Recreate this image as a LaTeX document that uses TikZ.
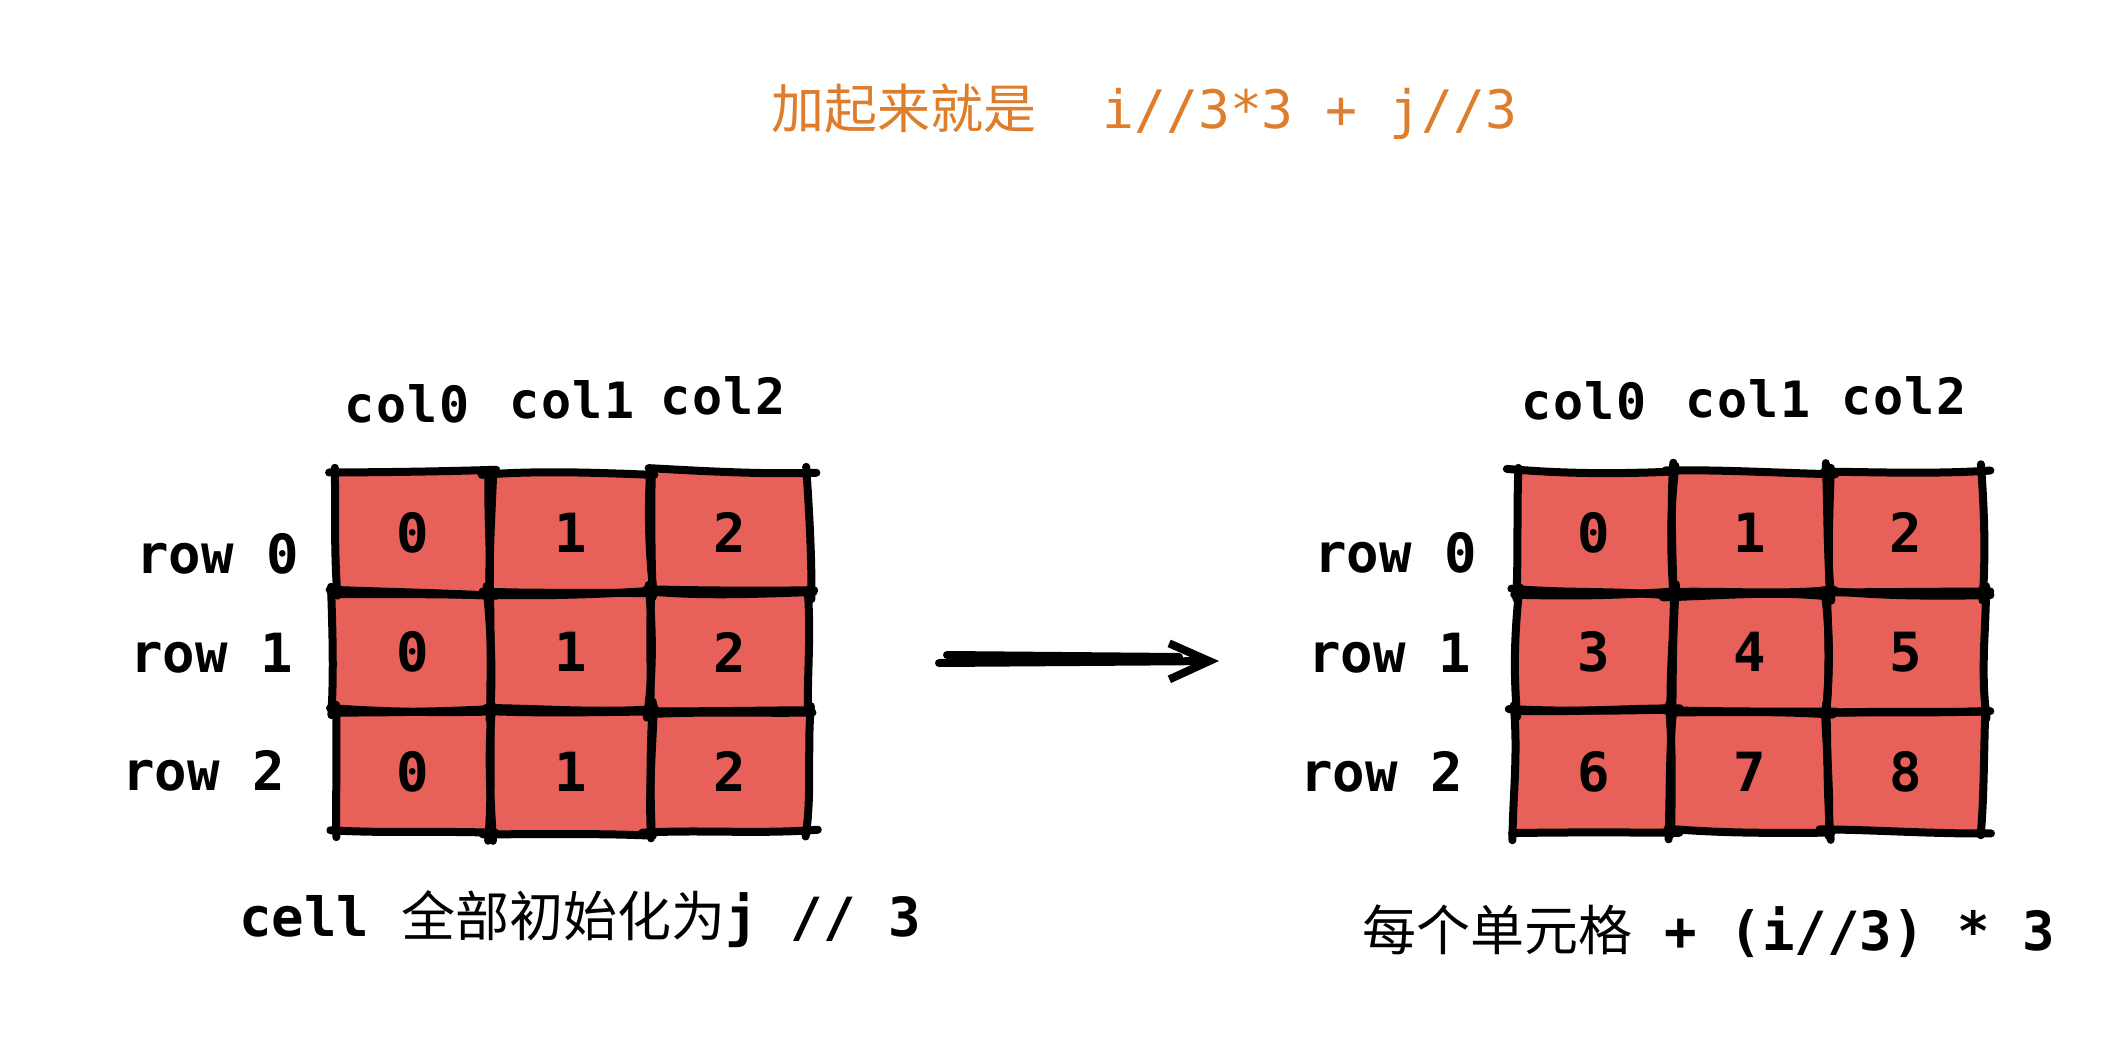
\documentclass[tikz,border=0pt]{standalone}
\usepackage{fontspec}
\setmonofont{DejaVu Sans Mono}
\newfontfamily\cjk{Noto Sans CJK SC}
\newfontfamily\colfont{DejaVu Sans Mono}[LetterSpace=3]
\usetikzlibrary{arrows.meta,calc}
\definecolor{cellred}{RGB}{232,96,90}
\definecolor{titleorange}{RGB}{222,126,44}

\newcommand\mkcell[6]{%
  \pgfmathsetmacro\cw{(#4-#2)*0.5}%
  \pgfmathsetmacro\ch{(#5-#3)*0.5}%
  \node[cellnode, minimum width=\cw pt, minimum height=\ch pt] (#1) at ({(#2+#4)/2},{(#3+#5)/2}) {#6};%
}
\newcommand\skedge[2]{%
  \pgfmathsetmacro\ja{4*rand}\pgfmathsetmacro\jb{4*rand}%
  \pgfmathsetmacro\jc{4*rand}\pgfmathsetmacro\jd{4*rand}%
  \pgfmathsetmacro\je{3*rand}\pgfmathsetmacro\jf{3*rand}%
  \draw[edge] ($(#1)!-2.5pt!(#2)+(\ja,\jb)$) .. controls ($(#1)!0.33!(#2)+(\je,\je)$) and ($(#1)!0.67!(#2)+(\jf,\jf)$) .. ($(#2)!-2.5pt!(#1)+(\jc,\jd)$);%
}
\newcommand\skbox[1]{%
  \skedge{#1.north west}{#1.north east}%
  \skedge{#1.north east}{#1.south east}%
  \skedge{#1.south east}{#1.south west}%
  \skedge{#1.south west}{#1.north west}%
}

\begin{document}
\begin{tikzpicture}[x=0.5pt,y=-0.5pt,
  cellnode/.style={fill=cellred, inner sep=0pt, font=\fontsize{27}{30}\selectfont\ttfamily\bfseries},
  edge/.style={line width=4pt, line cap=round, line join=round, black},
  collabel/.style={anchor=base west, inner sep=0pt, font=\fontsize{25}{28}\selectfont\colfont\bfseries},
  rowlabel/.style={anchor=base west, inner sep=0pt, font=\fontsize{27}{30}\selectfont\ttfamily\bfseries},
  caption/.style={anchor=base west, inner sep=0pt, font=\fontsize{27}{30}\selectfont}]
\useasboundingbox[fill=white] (0,0) rectangle (2104,1038);
\pgfmathsetseed{7}

% title
\node[caption, text=titleorange, font=\fontsize{26.5}{30}\selectfont] (title) at (771,128)
  {{\cjk 加起来就是}\hspace{33pt}{\ttfamily i//3*3 + j//3}};

% left grid
\mkcell{L00}{335}{472}{490}{593}{0}
\mkcell{L01}{490}{472}{651}{593}{1}
\mkcell{L02}{651}{472}{809}{593}{2}
\mkcell{L10}{335}{593}{490}{711}{0}
\mkcell{L11}{490}{593}{651}{711}{1}
\mkcell{L12}{651}{593}{809}{711}{2}
\mkcell{L20}{335}{711}{490}{832}{0}
\mkcell{L21}{490}{711}{651}{832}{1}
\mkcell{L22}{651}{711}{809}{832}{2}
% right grid
\mkcell{R00}{1516}{472}{1672}{593}{0}
\mkcell{R01}{1672}{472}{1828}{593}{1}
\mkcell{R02}{1828}{472}{1983}{593}{2}
\mkcell{R10}{1516}{593}{1672}{711}{3}
\mkcell{R11}{1672}{593}{1828}{711}{4}
\mkcell{R12}{1828}{593}{1983}{711}{5}
\mkcell{R20}{1516}{711}{1672}{832}{6}
\mkcell{R21}{1672}{711}{1828}{832}{7}
\mkcell{R22}{1828}{711}{1983}{832}{8}

\foreach \c in {L00,L01,L02,L10,L11,L12,L20,L21,L22,R00,R01,R02,R10,R11,R12,R20,R21,R22}{\skbox{\c}}

% column labels
\node[collabel] (lc0) at (344,422) {col0};
\node[collabel] (lc1) at (509,418) {col1};
\node[collabel] (lc2) at (660,414) {col2};
\node[collabel] (rc0) at (1521,419) {col0};
\node[collabel] (rc1) at (1685,417) {col1};
\node[collabel] (rc2) at (1841,414) {col2};

% row labels
\node[rowlabel] (lr0) at (136,573) {row 0};
\node[rowlabel] (lr1) at (130,672) {row 1};
\node[rowlabel] (lr2) at (122,790) {row 2};
\node[rowlabel] (rr0) at (1314,572) {row 0};
\node[rowlabel] (rr1) at (1308,672) {row 1};
\node[rowlabel] (rr2) at (1300,791) {row 2};

% captions
\node[caption] (capL) at (239,936)
  {{\ttfamily\bfseries cell }{\cjk 全部初始化为}{\ttfamily\bfseries j // 3}};
\node[caption] (capR) at (1362,950)
  {{\cjk 每个单元格}{\ttfamily\bfseries\ + (i//3) * 3}};

% arrow
\coordinate (aS) at (939,663);
\coordinate (aE) at (1219,661);
\draw[edge, line width=4pt, -{Straight Barb[length=20pt,width=18pt,line width=4pt]}] (aS) -- (aE);
\draw[edge] ($(aS)+(8,-8)$) -- ($(aE)+(-40,-4)$);
\end{tikzpicture}
\end{document}
